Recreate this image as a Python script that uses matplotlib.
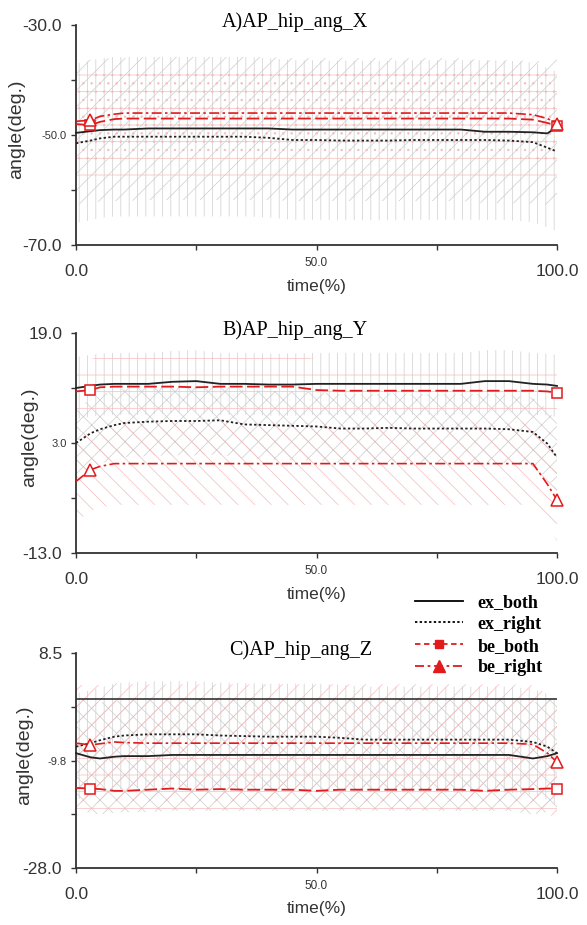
import numpy as np
import matplotlib
matplotlib.use('Agg')
import matplotlib.pyplot as plt
from matplotlib.lines import Line2D

plt.rcParams['font.family'] = 'Liberation Sans'
plt.rcParams['hatch.linewidth'] = 0.5

# time axis (% of cycle)
t = [0, 3, 5, 8, 10, 15, 20, 25, 30, 35, 40, 45, 50, 55, 60, 65, 70, 75, 80, 85, 90, 95, 98, 100]

names = ['ex_both', 'ex_right', 'be_both', 'be_right']
titles = ['A)AP_hip_ang_X', 'B)AP_hip_ang_Y', 'C)AP_hip_ang_Z']

# A) hip angle X
ex_both_A = [-49.6, -49.3, -49.1, -49.0, -49.0, -48.8, -48.8, -48.8, -48.8, -48.8, -48.8, -49.0,
             -49.0, -49.0, -49.0, -49.0, -49.0, -49.0, -49.0, -49.4, -49.4, -49.5, -49.7, -48.5]
ex_right_A = [-51.5, -51.0, -50.6, -50.3, -50.3, -50.3, -50.3, -50.3, -50.3, -50.3, -50.5, -50.9,
              -50.9, -51.0, -51.0, -51.0, -50.9, -50.9, -50.9, -50.9, -51.0, -51.3, -52.3, -53.0]
be_both_A = [-48.0, -48.2, -47.6, -47.1, -47.0, -47.0, -47.0, -47.0, -47.0, -47.0, -47.0, -47.0,
             -47.0, -47.0, -47.0, -47.0, -47.0, -47.0, -47.0, -47.0, -47.0, -47.2, -47.8, -48.3]
be_right_A = [-47.5, -47.3, -46.6, -46.2, -46.0, -46.0, -46.0, -46.0, -46.0, -46.0, -46.0, -46.0,
              -46.0, -46.0, -46.0, -46.0, -46.0, -46.0, -46.0, -46.0, -46.0, -46.3, -47.0, -47.9]
sd_A = [13.0, 14.5, 10.5, 8.0]

# B) hip angle Y
ex_both_B = [11.0, 11.3, 11.5, 11.6, 11.6, 11.6, 11.9, 12.0, 11.6, 11.6, 11.5, 11.5,
             11.6, 11.6, 11.6, 11.6, 11.6, 11.6, 11.6, 12.0, 12.0, 11.6, 11.5, 11.3]
ex_right_B = [3.0, 4.4, 5.0, 5.6, 5.9, 6.1, 6.2, 6.2, 6.3, 5.7, 5.6, 5.5,
              5.4, 5.1, 5.1, 5.2, 5.1, 5.1, 5.1, 5.1, 5.0, 4.6, 2.9, 0.9]
be_both_B = [10.5, 10.7, 11.1, 11.2, 11.2, 11.2, 11.2, 11.1, 11.2, 11.2, 11.2, 11.2,
             10.7, 10.6, 10.6, 10.6, 10.6, 10.6, 10.6, 10.6, 10.6, 10.6, 10.5, 10.3]
be_right_B = [-2.6, -0.9, -0.4, 0.0, 0.0, 0.0, 0.0, 0.0, 0.0, 0.0, 0.0, 0.0,
              0.0, 0.0, 0.0, 0.0, 0.0, 0.0, 0.0, 0.0, 0.0, 0.0, -3.0, -5.3]
sd_B = [4.5, 5.0, 4.5, 6.0]

# C) hip angle Z
ex_both_C = [-8.5, -9.2, -9.4, -9.1, -9.0, -9.0, -8.8, -8.8, -8.8, -8.8, -8.8, -8.8,
             -8.8, -8.8, -8.8, -8.8, -8.8, -8.8, -8.8, -8.8, -8.8, -9.4, -9.0, -8.5]
ex_right_C = [-7.4, -6.8, -6.3, -5.7, -5.5, -5.3, -5.3, -5.3, -5.5, -5.6, -5.7, -5.7,
              -5.7, -5.9, -6.2, -6.2, -6.2, -6.2, -6.2, -6.2, -6.2, -6.6, -7.4, -8.5]
be_both_C = [-14.4, -14.5, -14.6, -14.9, -14.9, -14.7, -14.5, -14.7, -14.6, -14.7, -14.7, -14.7,
             -14.9, -14.7, -14.7, -14.7, -14.7, -14.7, -14.7, -14.9, -14.7, -14.6, -14.5, -14.5]
be_right_C = [-6.8, -7.1, -6.9, -6.6, -6.7, -6.8, -6.8, -6.8, -6.8, -6.8, -6.8, -6.8,
              -6.8, -6.8, -6.8, -6.8, -6.8, -6.8, -6.8, -6.8, -6.8, -7.0, -8.5, -10.0]
sd_C = [9.5, 9.0, 5.5, 10.0]
ex_both_C_upper = 0.7   # upper sd limit of ex_both, drawn as a line

ylims = [(-70.0, -30.0), (-13.0, 19.0), (-28.0, 8.5)]
ymid_ticks = [[-60.0, -50.0, -40.0], [-5.0, 3.0, 11.0], [-18.875, -9.75, -0.625]]
ymid_labels = [['', '-50.0', ''], ['', '3.0', ''], ['', '-9.8', '']]
ymaj_labels = [['-70.0', '-30.0'], ['-13.0', '19.0'], ['-28.0', '8.5']]

data = [
    dict(ex_both=ex_both_A, ex_right=ex_right_A, be_both=be_both_A, be_right=be_right_A, sd=sd_A),
    dict(ex_both=ex_both_B, ex_right=ex_right_B, be_both=be_both_B, be_right=be_right_B, sd=sd_B),
    dict(ex_both=ex_both_C, ex_right=ex_right_C, be_both=be_both_C, be_right=be_right_C, sd=sd_C),
]

gray = '#cdcdcd'
pink = '#f6bcbc'
red = '#e31a1c'
hatches = [['//', '||', '-', '..'],
           ['||', 'xx', '-', '\\\\'],
           ['xx', '||', '-', '//']]
hcolors = [gray, gray, pink, pink]

positions = [[0.1295, 0.7351, 0.8194, 0.2378],
             [0.1295, 0.4022, 0.8194, 0.2378],
             [0.1295, 0.0616, 0.8194, 0.2324]]
ylab_x = [-0.106, -0.079, -0.089]
title_x = [0.455, 0.455, 0.468]

fig = plt.figure(figsize=(5.87, 9.25), dpi=100)
mk = [1, len(t) - 1]

for i, d in enumerate(data):
    ax = fig.add_axes(positions[i])
    # sd bands
    for k, name in enumerate(names):
        m = np.array(d[name])
        s = d['sd'][k]
        ax.fill_between(t, m - s, m + s, facecolor='none', edgecolor=hcolors[k],
                        hatch=hatches[i][k], linewidth=0, zorder=1)
    if i == 2:
        ax.plot([t[0], t[-1]], [ex_both_C_upper, ex_both_C_upper], color='#222222', lw=1.1, zorder=2)

    ax.plot(t, d['ex_both'], color='#222222', lw=1.3, zorder=4, clip_on=False)
    ax.plot(t, d['ex_right'], color='#222222', lw=1.3, ls=(0, (1.3, 1.3)), zorder=4, clip_on=False)
    ax.plot(t, d['be_both'], color=red, lw=1.3, ls=(0, (7, 2.5)), marker='s', markevery=mk,
            ms=7, mfc='white', mec=red, mew=1.1, zorder=5, clip_on=False)
    ax.plot(t, d['be_right'], color=red, lw=1.2, ls=(0, (6, 2, 1.5, 2)), marker='^', markevery=mk,
            ms=8, mfc='white', mec=red, mew=1.1, zorder=5, clip_on=False)

    ax.set_xlim(0, 100)
    ax.set_ylim(*ylims[i])
    ax.set_xticks([0, 100])
    ax.set_xticklabels(['0.0', '100.0'])
    ax.set_xticks([25, 50, 75], minor=True)
    ax.set_xticklabels(['', '50.0', ''], minor=True)
    ax.set_yticks(list(ylims[i]))
    ax.set_yticklabels(ymaj_labels[i])
    ax.set_yticks(ymid_ticks[i], minor=True)
    ax.set_yticklabels(ymid_labels[i], minor=True)

    ax.tick_params(which='both', length=3.5, width=1.0, color='#333333', labelcolor='#333333')
    ax.tick_params(axis='x', which='major', labelsize=12.5, pad=10)
    ax.tick_params(axis='x', which='minor', labelsize=8.5, pad=5)
    ax.tick_params(axis='y', which='major', labelsize=12.5, pad=6.5)
    ax.tick_params(axis='y', which='minor', labelsize=8, pad=3)

    for sp in ['top', 'right']:
        ax.spines[sp].set_visible(False)
    for sp in ['left', 'bottom']:
        ax.spines[sp].set_linewidth(1.3)
        ax.spines[sp].set_color('#333333')

    ax.set_ylabel('angle(deg.)', fontsize=14, color='#333333')
    ax.yaxis.set_label_coords(ylab_x[i], 0.525)
    ax.set_xlabel('time(%)', fontsize=12.5, color='#333333')
    ax.xaxis.set_label_coords(0.5, -0.155)

    ax.text(title_x[i], 1.015, titles[i], transform=ax.transAxes, ha='center', va='center',
            family='Liberation Serif', fontsize=14.5)

handles = [
    Line2D([], [], color='k', lw=1.3),
    Line2D([], [], color='k', lw=1.3, ls=(0, (1.3, 1.3))),
    Line2D([], [], color=red, lw=1.3, ls=(0, (3, 2)), marker='s', ms=6, mfc=red, mec=red),
    Line2D([], [], color=red, lw=1.3, ls=(0, (5, 2, 1.5, 2)), marker='^', ms=8, mfc=red, mec=red),
]
fig.legend(handles, names, loc='upper left', bbox_to_anchor=(0.707, 0.358), frameon=False,
           prop={'family': 'Liberation Serif', 'weight': 'bold', 'size': 13},
           handlelength=2.67, handletextpad=0.8, labelspacing=0.27, borderpad=0, borderaxespad=0)

fig.savefig('out.png', dpi=100)
